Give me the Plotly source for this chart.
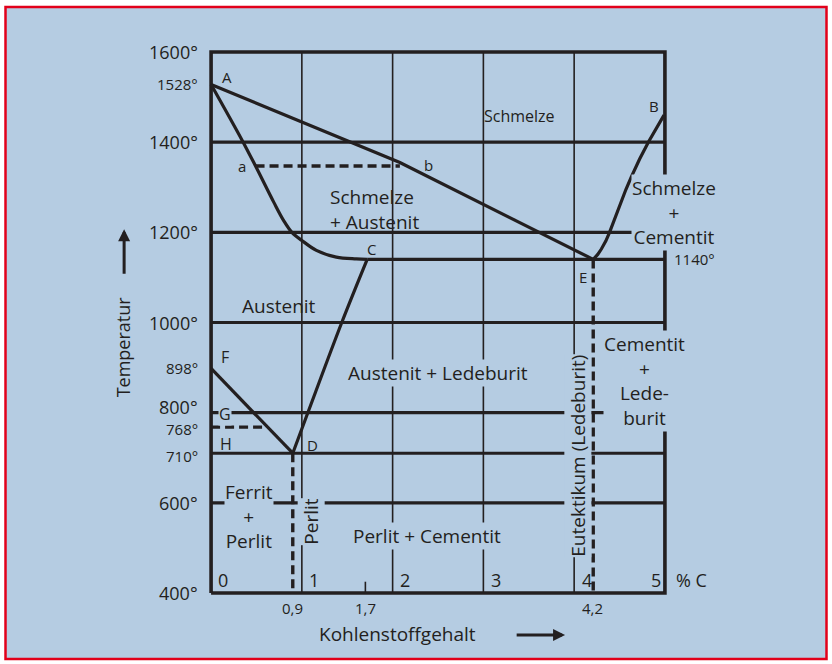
import plotly.graph_objects as go

# ---------------- data (carbon content in %, temperature in °C) ----------------
iso_temps = [1400, 1200, 1000, 800, 710, 600]      # full-width isotherm lines
grid_carbon = [1, 2, 3, 4]                         # thin vertical grid lines

liq_c = [0, 2.08, 4.21]                            # A - b - E
liq_t = [1528, 1355, 1140]

sol_c = [0, 0.34, 0.49, 0.69, 0.80, 0.89, 1.00, 1.16, 1.38, 1.60, 1.72]   # A - a - C
sol_t = [1528, 1405, 1347, 1267, 1226, 1200, 1182, 1160, 1145, 1141, 1140]

eut_c = [1.72, 5.0]                                # C - E - 1140° line
eut_t = [1140, 1140]

es_c = [1.72, 1.44, 1.07, 0.90]                    # C - D
es_t = [1140, 1000, 802, 710]

gs_c = [0, 0.90]                                   # F - D
gs_t = [898, 710]

eb_c = [4.21, 4.26, 4.30, 4.35, 4.39, 4.45, 4.50, 4.57, 4.63, 4.72, 4.82, 4.90, 4.99]  # E - B
eb_t = [1140, 1151, 1163, 1181, 1200, 1232, 1262, 1295, 1323, 1362, 1401, 1430, 1460]

ab_c = [0.49, 2.08]                                # dashed a - b
ab_t = [1347, 1347]
g768_c = [0, 0.60]                                 # dashed 768° line
g768_t = [768, 768]
perlit_c = 0.9                                     # eutectoid composition
perlit_t = [710, 400]
ledeb_c = 4.21                                     # eutectic composition
ledeb_t = [1140, 400]
tick17_c = 1.7
tick17_t = [400, 425]

x_min, x_max = 0, 5
t_min, t_max = 400, 1600

y_tick_vals = [1600, 1528, 1400, 1200, 1000, 898, 800, 768, 710, 600, 400]
y_tick_text = ["1600°", "1528°", "1400°", "1200°", "1000°", "898°", "800°", "768°", "710°", "600°", "400°"]
y_tick_small = [False, True, False, False, False, True, False, True, True, False, False]

x_inner_vals = [0, 1, 2, 3, 4]
x_inner_text = ["0", "1", "2", "3", "4"]
x_below_vals = [0.9, 1.7, 4.2]
x_below_text = ["0,9", "1,7", "4,2"]

point_names = ["A", "a", "b", "B", "C", "E", "F", "G", "H", "D"]
point_x = [0.18, 0.34, 2.40, 4.88, 1.77, 4.10, 0.15, 0.15, 0.165, 1.12]
point_y = [1545, 1347, 1349, 1480, 1163, 1101, 923, 797, 730, 728]

# ---------------- styling ----------------
INK = "#231f20"
BG = "#b5cce2"
RED = "#e2001a"
FONT = "Open Sans"
W, H = 832, 664
L, R, T, B = 202, 158, 43, 62
XR = [-0.1, 5.1]
YR = [380, 1620]
LABEL_NUDGE = {800: 12, 768: -4, 710: -6}   # small vertical shifts of crowded tick labels (°C)

fig = go.Figure()


def seg_trace(xs, ys, width, dash="solid", shape="linear"):
    fig.add_trace(go.Scatter(x=xs, y=ys, mode="lines", hoverinfo="skip",
                             line=dict(color=INK, width=width, dash=dash, shape=shape),
                             showlegend=False))


# thin vertical grid
gx, gy = [], []
for c in grid_carbon:
    gx += [c, c, None]
    gy += [t_min, t_max, None]
gx += [tick17_c, tick17_c, None]
gy += tick17_t + [None]
seg_trace(gx, gy, 1.6)

# isotherms
hx, hy = [], []
for t in iso_temps:
    hx += [x_min, x_max, None]
    hy += [t, t, None]
seg_trace(hx, hy, 3.2)

# frame
seg_trace([x_min, x_min, x_max, x_max, x_min], [t_min, t_max, t_max, t_min, t_min], 3.6)

# phase boundaries
seg_trace(liq_c, liq_t, 3.2)
seg_trace(sol_c, sol_t, 3.2, shape="spline")
seg_trace(eut_c, eut_t, 3.2)
seg_trace(es_c, es_t, 3.2, shape="spline")
seg_trace(gs_c, gs_t, 3.2)
seg_trace(eb_c, eb_t, 3.2)

# dashed lines
dash = "9px,5px"
seg_trace(ab_c, ab_t, 3.4, dash=dash)
seg_trace(g768_c, g768_t, 3.4, dash=dash)
seg_trace([perlit_c, perlit_c], perlit_t, 3.4, dash=dash)
seg_trace([ledeb_c, ledeb_c], ledeb_t, 3.4, dash=dash)

pw, ph = W - L - R, H - T - B


def to_px(x):   # data x -> paper fraction
    return (x - XR[0]) / (XR[1] - XR[0])


def to_py(y):   # data y -> paper fraction
    return (y - YR[0]) / (YR[1] - YR[0])


ann = []


def label(x, y, text, size, bg=False, angle=0, xanchor="center", align="center"):
    ann.append(dict(x=to_px(x), y=to_py(y), xref="paper", yref="paper", text=text, showarrow=False,
                    font=dict(family=FONT, size=size, color=INK),
                    bgcolor=BG if bg else "rgba(0,0,0,0)", borderpad=0,
                    textangle=angle, xanchor=xanchor, yanchor="middle", align=align))


# y tick labels
for v, t, small in zip(y_tick_vals, y_tick_text, y_tick_small):
    label(-0.13, v + LABEL_NUDGE.get(v, 0), t, 15 if small else 18, xanchor="right")

# x tick labels inside the frame
for v, t in zip(x_inner_vals, x_inner_text):
    label(v + 0.07, 429, t, 18, xanchor="left")
label(4.97, 429, "5", 18, xanchor="right")
label(5.11, 429, "% C", 18, xanchor="left")

# x tick labels below the axis
for v, t in zip(x_below_vals, x_below_text):
    label(v, 367, t, 15)

# point letters
for n, x, y in zip(point_names, point_x, point_y):
    label(x, y, n, 16 if n in "FGH" else 15, bg=(n == "G"))

# region labels
label(3.40, 1458, "Schmelze", 16)
label(1.30, 1251, "Schmelze<br>+ Austenit", 19, xanchor="left", align="left")
label(5.10, 1245, "Schmelze<br>+<br>Cementit", 19, bg=True)
label(0.75, 1036, "Austenit", 19)
label(2.505, 888, "Austenit + Ledeburit", 19, bg=True)
label(4.78, 871, "Cementit<br>+<br>Lede-<br>burit", 19, bg=True)
label(0.413, 569, "Ferrit<br>+<br>Perlit", 19, bg=True)
label(1.10, 558, "Perlit", 19, bg=True, angle=-90)
label(2.384, 527, "Perlit + Cementit", 19, bg=True)
label(4.04, 704, "Eutektikum (Ledeburit)", 19, bg=True, angle=-90)
label(5.088, 1140, "1140°", 15, xanchor="left")

# axis titles
label(2.05, 309, "Kohlenstoffgehalt", 19)
label(-0.97, 945, "Temperatur", 18, angle=-90)

# arrows (head position in data units, tail as pixel offset)
xscale = pw / (XR[1] - XR[0])
yscale = ph / (YR[1] - YR[0])
ann.append(dict(x=to_px(3.90), y=to_py(307), xref="paper", yref="paper",
                ax=-(3.90 - 3.35) * xscale, ay=0,
                text="", showarrow=True, arrowhead=2, arrowsize=0.8, arrowwidth=3, arrowcolor=INK))
ann.append(dict(x=to_px(-0.958), y=to_py(1207), xref="paper", yref="paper",
                ax=0, ay=(1207 - 1105) * yscale,
                text="", showarrow=True, arrowhead=2, arrowsize=0.8, arrowwidth=3, arrowcolor=INK))


def pxl_x(px):
    return (px - L) / pw


def pxl_y(py):
    return (H - B - py) / ph


shapes = [dict(type="rect", xref="paper", yref="paper", layer="below",
               x0=pxl_x(5.5), x1=pxl_x(826.5), y0=pxl_y(659), y1=pxl_y(7),
               fillcolor=BG, line=dict(color=RED, width=2.5))]

fig.update_layout(
    width=W, height=H, autosize=False,
    margin=dict(l=L, r=R, t=T, b=B, pad=0),
    paper_bgcolor="white", plot_bgcolor="rgba(0,0,0,0)",
    xaxis=dict(range=XR, visible=False, fixedrange=True),
    yaxis=dict(range=YR, visible=False, fixedrange=True),
    annotations=ann, shapes=shapes, showlegend=False,
)

fig.write_html("out.html", config={"displayModeBar": False},
               post_script="document.body.style.margin='0';document.body.style.overflow='hidden';")
